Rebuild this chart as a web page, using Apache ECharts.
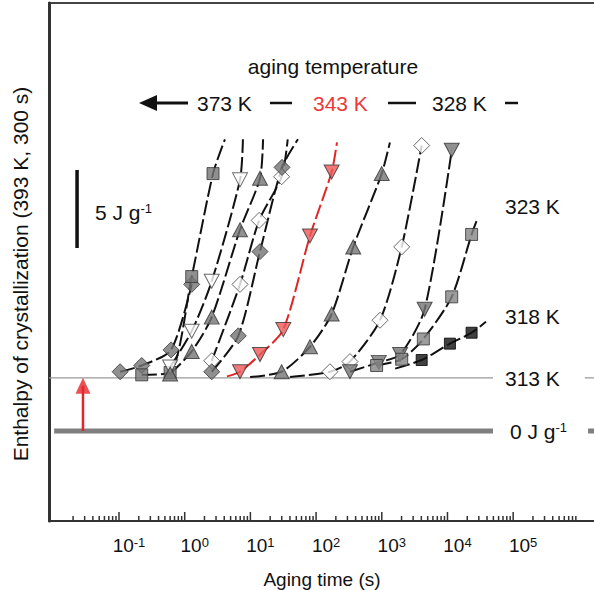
<!DOCTYPE html>
<html><head><meta charset="utf-8">
<script src="https://cdn.jsdelivr.net/npm/echarts@6/dist/echarts.min.js"></script>
<style>html,body{margin:0;padding:0;background:#fff;overflow:hidden}#c{width:594px;height:590px}</style>
</head><body><div id="c"></div>
<script>
// ---- data: aging time t (s) and enthalpy H (J/g) ----
const T373=[0.104,0.222,0.62,1.28],      H373=[3.8,4.2,5.2,9.4],        X373=[];
const T368=[0.222,0.6,1.28,2.7],         H368=[3.6,3.75,9.9,16.5],      X368=[[4.1,18.7]];
const T363=[0.6,1.28,2.58,6.95],         H363=[4.1,6.4,9.6,16.1],       X363=[[7.7,18.7]];
const T358=[0.6,1.28,2.58,6.95,14.0],    H358=[3.65,5.1,7.3,12.9,16.2], X358=[[15.6,18.7]];
const T353=[2.58,6.95,13.6,29.9],        H353=[4.5,9.4,13.5,16.3],      X353=[[37,18.7]];
const T348=[2.58,6.55,14.0,30.3],        H348=[3.8,6.1,11.5,16.9],      X348=[[53,18.7]];
const T343=[6.95,14.0,31.7,80.7,172.6],  H343=[3.8,4.9,6.5,12.5,16.6],  X343=[[4.4,3.5],[208,18.5]];
const T338=[29.9,80.7,172.6,368,998],    H338=[3.8,5.4,7.5,11.8,16.5],  X338=[[9.9,3.46],[1330,18.5]];
const T333=[162.5,328,940,2010,4050],    H333=[3.8,4.45,7.1,11.8,18.3], X333=[[40,3.46]];
const T328=[328,900,1900,4490,11600],    H328=[3.8,4.4,4.9,7.8,18.0],   X328=[];
const T323=[835,2010,4290,11600,23300],  H323=[4.2,4.6,5.9,8.6,12.6],   X323=[[29100,13.7]];
const T318=[4050,10900,23300],           H318=[4.55,5.6,6.3],           X318=[[1600,4.0],[38500,7.0]];
const H313=3.4;                 // 313 K : no crystallization (flat)
const LINE313=[[0.0086,H313],[49300,H313],[1.0e6,'-'],[1.23e6,H313],[2.6e6,H313]];
const LINE0=[[0.0103,0],[49300,0],[1.2e6,'-'],[1.38e6,0],[2.6e6,0]];
const ARROW_T=0.0283, ARROW_H=[0,2.9];
const SCALE_T=0.023, SCALE_H=[11.73,16.73];
const DECADES=[-1,0,1,2,3,4,5];
const MINOR_M=[2,3,4,5,6,7,8,9];
const XMIN=Math.pow(10,-2.0654), XMAX=Math.pow(10,6.413);
const YMIN=-5.769, YMAX=27.436;

const FONT='"Liberation Sans", Arial, Helvetica, sans-serif';
const GRAY='#747474', EDGE='#333';

function curve(T,H,X,sym,rot,fill,edge,lc,size){
  const pts=T.map((t,i)=>[t,H[i]]).concat(X).sort((a,b)=>a[0]-b[0]);
  return [
    {type:'line',data:pts,symbol:'none',smooth:0.25,z:2,
     lineStyle:{color:lc,width:2,type:[15,4]}},
    {type:'scatter',data:T.map((t,i)=>[t,H[i]]),symbol:sym,symbolRotate:rot,symbolSize:size,z:5,
     itemStyle:{color:fill,borderColor:edge,borderWidth:1}}
  ];
}
const series=[].concat(
  curve(T373,H373,X373,'diamond',0,GRAY,EDGE,'#111',[16,16]),
  curve(T368,H368,X368,'rect',0,GRAY,EDGE,'#111',[12,12]),
  curve(T363,H363,X363,'triangle',180,'#fff','#444','#111',[15,14]),
  curve(T358,H358,X358,'triangle',0,GRAY,EDGE,'#111',[15,14]),
  curve(T353,H353,X353,'diamond',0,'#fff','#444','#111',[16,16]),
  curve(T348,H348,X348,'diamond',0,GRAY,EDGE,'#111',[16,16]),
  curve(T343,H343,X343,'triangle',180,'#f05858','#333','#e02525',[15,14]),
  curve(T338,H338,X338,'triangle',0,GRAY,EDGE,'#111',[15,14]),
  curve(T333,H333,X333,'diamond',0,'#fff','#444','#111',[16,16]),
  curve(T328,H328,X328,'triangle',180,GRAY,EDGE,'#111',[15,14]),
  curve(T323,H323,X323,'rect',0,'#858585',EDGE,'#111',[12,12]),
  curve(T318,H318,X318,'rect',0,'#111','#000','#111',[11,11])
);
series.push(
  {type:'line',data:LINE313,symbol:'none',z:1,lineStyle:{color:'#9a9a9a',width:1.3}},
  {type:'line',data:LINE0,symbol:'none',z:1,lineStyle:{color:'#7f7f7f',width:5}},
  {type:'line',data:ARROW_H.map(h=>[ARROW_T,h]),symbol:'none',z:6,lineStyle:{color:'#e3262b',width:2.5}},
  {type:'scatter',data:[[ARROW_T,ARROW_H[1]]],symbol:'triangle',symbolSize:[15,16],z:6,itemStyle:{color:'#e3262b'}},
  {type:'line',data:SCALE_H.map(h=>[SCALE_T,h]),symbol:'none',z:6,lineStyle:{color:'#111',width:3.5}}
);
// log-axis tick marks (minor 2..9, major at decades)
const tickData=[];
for(let k=-2;k<=5;k++){MINOR_M.forEach(m=>tickData.push([m*Math.pow(10,k),0]));}
DECADES.forEach(d=>tickData.push([Math.pow(10,d),1]));
series.push({type:'custom',data:tickData,z:7,silent:true,clip:true,
  renderItem:(params,api)=>{
    const p=api.coord([api.value(0),YMIN]);
    const len=api.value(1)?9:5;
    return {type:'line',shape:{x1:p[0],y1:p[1],x2:p[0],y2:p[1]-len},style:{stroke:'#333',lineWidth:1.5}};
  }});

function txt(x,y,text,extra){
  return Object.assign({type:'text',x:x,y:y,z:10,style:Object.assign({text:text,font:'21px '+FONT,fill:'#111',
    textAlign:'left',textVerticalAlign:'middle'},extra||{})});
}
const sup={s:{fontSize:13,fontFamily:FONT,verticalAlign:'top',fill:'#111'}};
const graphic=[
  txt(333,66,'aging temperature',{textAlign:'center'}),
  {type:'line',shape:{x1:188,y1:103,x2:152,y2:103},style:{stroke:'#111',lineWidth:3}},
  {type:'polygon',shape:{points:[[139,103],[157,95],[157,111]]},style:{fill:'#111'}},
  txt(197,103,'373 K'),
  {type:'line',shape:{x1:270,y1:103,x2:292,y2:103},style:{stroke:'#111',lineWidth:2.5}},
  txt(313,103,'343 K',{fill:'#e8393b'}),
  {type:'line',shape:{x1:388,y1:103,x2:416,y2:103},style:{stroke:'#111',lineWidth:2.5}},
  txt(432,103,'328 K'),
  {type:'line',shape:{x1:505,y1:103,x2:518,y2:103},style:{stroke:'#111',lineWidth:2.5}},
  txt(95,212,'5 J g{s|-1}',{rich:sup}),
  txt(505,206,'323 K'),
  txt(505,316,'318 K'),
  txt(505,378,'313 K'),
  txt(510,431,'0 J g{s|-1}',{rich:sup}),
  txt(322,579,'Aging time (s)',{textAlign:'center',font:'19px '+FONT}),
  {type:'text',x:20,y:274,rotation:Math.PI/2,z:10,style:{text:'Enthalpy of crystallization (393 K, 300 s)',
    font:'21px '+FONT,fill:'#111',textAlign:'center',textVerticalAlign:'middle'}}
];

const chart=echarts.init(document.getElementById('c'),null,{renderer:'svg'});
chart.setOption({
  animation:false,
  backgroundColor:'#fff',
  grid:{left:49,top:3,width:557,height:518,show:true,borderColor:'#444',borderWidth:2,
        containLabel:false,outerBoundsMode:'none'},
  xAxis:{type:'log',logBase:10,min:XMIN,max:XMAX,
    axisLine:{show:true,onZero:false,lineStyle:{color:'#333',width:2}},axisTick:{show:false},splitLine:{show:false},
    axisLabel:{interval:0,margin:15,showMinLabel:false,showMaxLabel:false,
      formatter:v=>{const e=Math.log10(v);const r=Math.round(e);
        if(Math.abs(e-r)>1e-6||DECADES.indexOf(r)<0)return '';return '{p| }{b|10}{s|'+r+'}';},
      rich:{p:{width:20,fontSize:19},b:{fontSize:19,fontFamily:FONT,color:'#111'},
            s:{fontSize:13,fontFamily:FONT,color:'#111',verticalAlign:'top'}}}},
  yAxis:{type:'value',min:YMIN,max:YMAX,
    axisLine:{show:true,onZero:false,lineStyle:{color:'#333',width:3}},axisTick:{show:false},axisLabel:{show:false},splitLine:{show:false}},
  series:series,
  graphic:graphic
});
</script></body></html>
